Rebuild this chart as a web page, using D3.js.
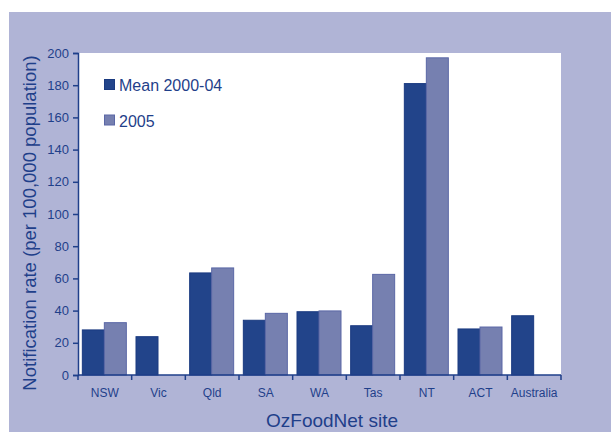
<!DOCTYPE html>
<html><head><meta charset="utf-8">
<script src="https://cdn.jsdelivr.net/npm/d3@7"></script>
<style>body{margin:0;background:#fff}svg{display:block}text{font-family:"Liberation Sans",Arial,sans-serif}</style>
</head><body><svg id="c" width="611" height="432"></svg>
<script>
const categories = ["NSW","Vic","Qld","SA","WA","Tas","NT","ACT","Australia"];
const mean0004 = [28, 23.8, 63.4, 34, 39.3, 30.6, 181, 28.6, 36.8];
const y2005 = [32.5, null, 66.5, 38.3, 39.8, 62.5, 197, 29.8, null];
const seriesNames = ["Mean 2000-04", "2005"];
const yTicks = [0,20,40,60,80,100,120,140,160,180,200];

const svg = d3.select("#c");
const txt = "#1f3f8a";
const colors = ["#22448a", "#7680b0"];
const strokes = ["#1a3a80", "#5a67a6"];
svg.append("rect").attr("x",9).attr("y",12).attr("width",602).attr("height",420).attr("fill","#b0b4d6");

const L=78, R=561, T=53, B=375;
svg.append("rect").attr("x",L).attr("y",T).attr("width",R-L).attr("height",B-T).attr("fill","#fff");

const x = d3.scaleBand().domain(categories).range([L,R]);
const y = d3.scaleLinear().domain([0,200]).range([B,T]);
const bw = 22;

const series = [mean0004, y2005];
series.forEach((vals,si)=>{
  svg.append("g").selectAll("rect").data(categories.map((c,i)=>({c,v:vals[i]})).filter(d=>d.v!=null))
    .join("rect")
    .attr("x",d=>x(d.c)+x.bandwidth()/2-bw+si*bw-0.5)
    .attr("y",d=>y(d.v))
    .attr("width",bw)
    .attr("height",d=>B-y(d.v))
    .attr("fill",colors[si]).attr("stroke",strokes[si]).attr("stroke-width",1);
});

// y axis
const ya = svg.append("g").attr("transform",`translate(${L},0)`)
  .call(d3.axisLeft(y).tickValues(yTicks).tickSize(5).tickPadding(4));
ya.select(".domain").attr("stroke",txt).attr("stroke-width",1.5);
ya.selectAll(".tick line").attr("stroke",txt).attr("stroke-width",1.5);
ya.selectAll(".tick text").attr("fill",txt).style("font-size","13px");

// x axis
const xTickPos = d3.range(categories.length+1).map(i=>L+i*x.bandwidth());
const xa = svg.append("g");
xa.append("line").attr("x1",L).attr("x2",R).attr("y1",B).attr("y2",B).attr("stroke",txt).attr("stroke-width",1.5);
xa.selectAll("line.t").data(xTickPos).join("line").attr("class","t")
  .attr("x1",d=>d).attr("x2",d=>d).attr("y1",B).attr("y2",B+5).attr("stroke",txt).attr("stroke-width",1.5);
xa.selectAll("text").data(categories).join("text")
  .attr("x",d=>x(d)+x.bandwidth()/2).attr("y",397).attr("text-anchor","middle")
  .attr("fill",txt).style("font-size","12px").text(d=>d);

svg.append("text").attr("x",332).attr("y",427).attr("text-anchor","middle").attr("fill",txt)
  .style("font-size","19px").text("OzFoodNet site");
svg.append("text").attr("transform","translate(36,223) rotate(-90)").attr("text-anchor","middle").attr("fill",txt)
  .style("font-size","18.5px").text("Notification rate (per 100,000 population)");

// legend
seriesNames.forEach((n,i)=>{
  const ly = 79.5 + i*35.5;
  svg.append("rect").attr("x",104.5).attr("y",ly).attr("width",10).attr("height",10)
    .attr("fill",colors[i]).attr("stroke",strokes[i]);
  svg.append("text").attr("x",119).attr("y",ly+11.5).attr("fill",txt).style("font-size","16px").text(n);
});
</script></body></html>
